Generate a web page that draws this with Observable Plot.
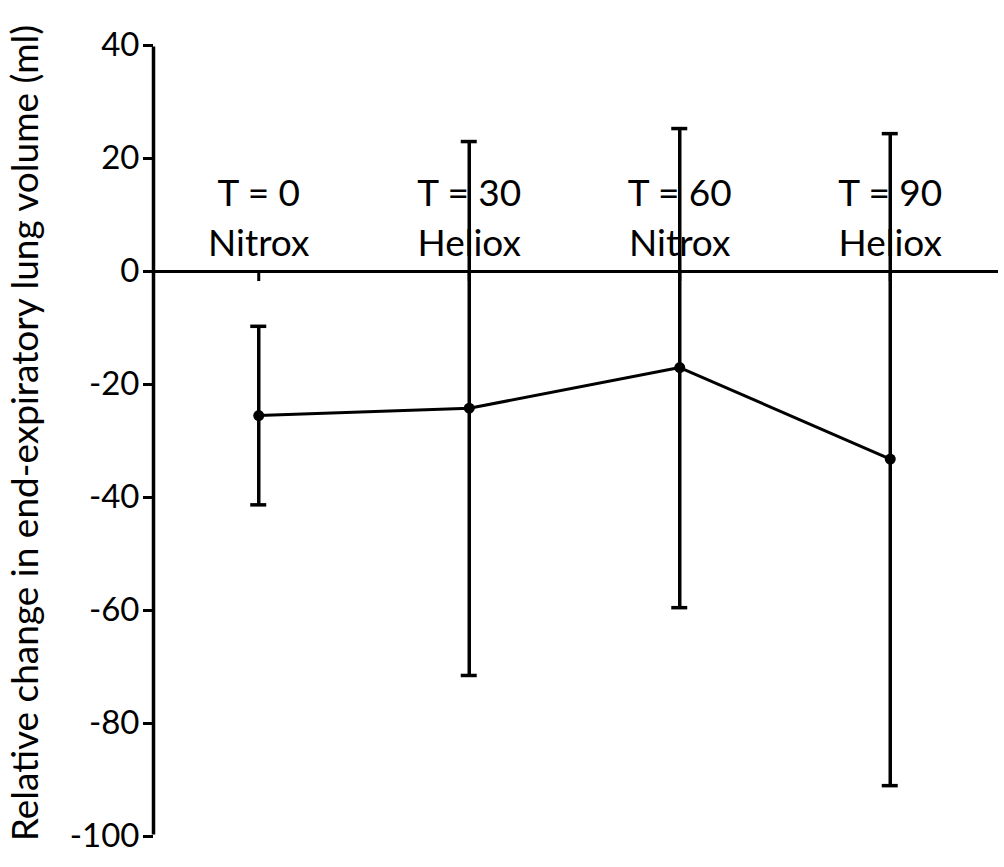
<!DOCTYPE html>
<html>
<head>
<meta charset="utf-8">
<script src="https://cdn.jsdelivr.net/npm/d3@7"></script>
<script src="https://cdn.jsdelivr.net/npm/@observablehq/plot@0.6"></script>
<style>
  html, body { margin: 0; padding: 0; background: #fff; }
</style>
</head>
<body>
<div id="chart"></div>
<script>
// Data
const timeLabels = ["T = 0", "T = 30", "T = 60", "T = 90"];
const gasLabels = ["Nitrox", "Heliox", "Nitrox", "Heliox"];
const means = [-25.5, -24.2, -17.0, -33.2];
const upper = [-9.7, 23.0, 25.3, 24.4];
const lower = [-41.3, -71.5, -59.5, -91.0];
const yTicks = [-100, -80, -60, -40, -20, 0, 20, 40];
const yLabel = "Relative change in end-expiratory lung volume (ml)";

const data = timeLabels.map((t, i) => ({
  i, t, g: gasLabels[i], mean: means[i], hi: upper[i], lo: lower[i]
}));

const font = "Lato, 'Open Sans', sans-serif";

const chart = Plot.plot({
  width: 1004,
  height: 867,
  marginLeft: 153,
  marginRight: 9,
  marginTop: 45,
  marginBottom: 31,
  style: { fontFamily: font, background: "#fff", color: "#000" },
  x: { domain: [-0.5, 3.5], axis: null },
  y: { domain: [-100, 40], axis: null },
  marks: [
    // y axis
    Plot.ruleX([-0.5], { y1: -100, y2: 40, stroke: "#000", strokeWidth: 3.5, insetTop: -1.5, insetBottom: -1.5 }),
    Plot.axisY({
      ticks: yTicks,
      tickSize: 10,
      tickPadding: 4,
      tickFormat: d => String(d),
      strokeWidth: 3,
      fontSize: 33,
      label: null
    }),
    Plot.text([yLabel], {
      frameAnchor: "left",
      textAnchor: "middle",
      rotate: -90,
      dx: -127,
      dy: -8,
      fontSize: 37,
      fill: "#000"
    }),
    // zero line with category ticks
    Plot.ruleY([0], { stroke: "#000", strokeWidth: 3, insetRight: -3 }),
    Plot.ruleX(data, { x: "i", y1: 0, y2: 0, insetBottom: -10, stroke: "#000", strokeWidth: 3 }),
    // category labels
    Plot.text(data, {
      x: "i",
      y: 0,
      text: d => d.t + "\n" + d.g,
      lineAnchor: "bottom",
      lineHeight: 1.33,
      dy: -16,
      fontSize: 37,
      fill: "#000"
    }),
    // error bars
    Plot.ruleX(data, { x: "i", y1: "lo", y2: "hi", stroke: "#000", strokeWidth: 3.5 }),
    Plot.ruleY(data, { y: "hi", x1: "i", x2: "i", insetLeft: -8, insetRight: -8, stroke: "#000", strokeWidth: 3.5 }),
    Plot.ruleY(data, { y: "lo", x1: "i", x2: "i", insetLeft: -8, insetRight: -8, stroke: "#000", strokeWidth: 3.5 }),
    // mean line and points
    Plot.line(data, { x: "i", y: "mean", stroke: "#000", strokeWidth: 3 }),
    Plot.dot(data, { x: "i", y: "mean", r: 5.5, fill: "#000", stroke: "none" })
  ]
});

document.getElementById("chart").appendChild(chart);
</script>
</body>
</html>
